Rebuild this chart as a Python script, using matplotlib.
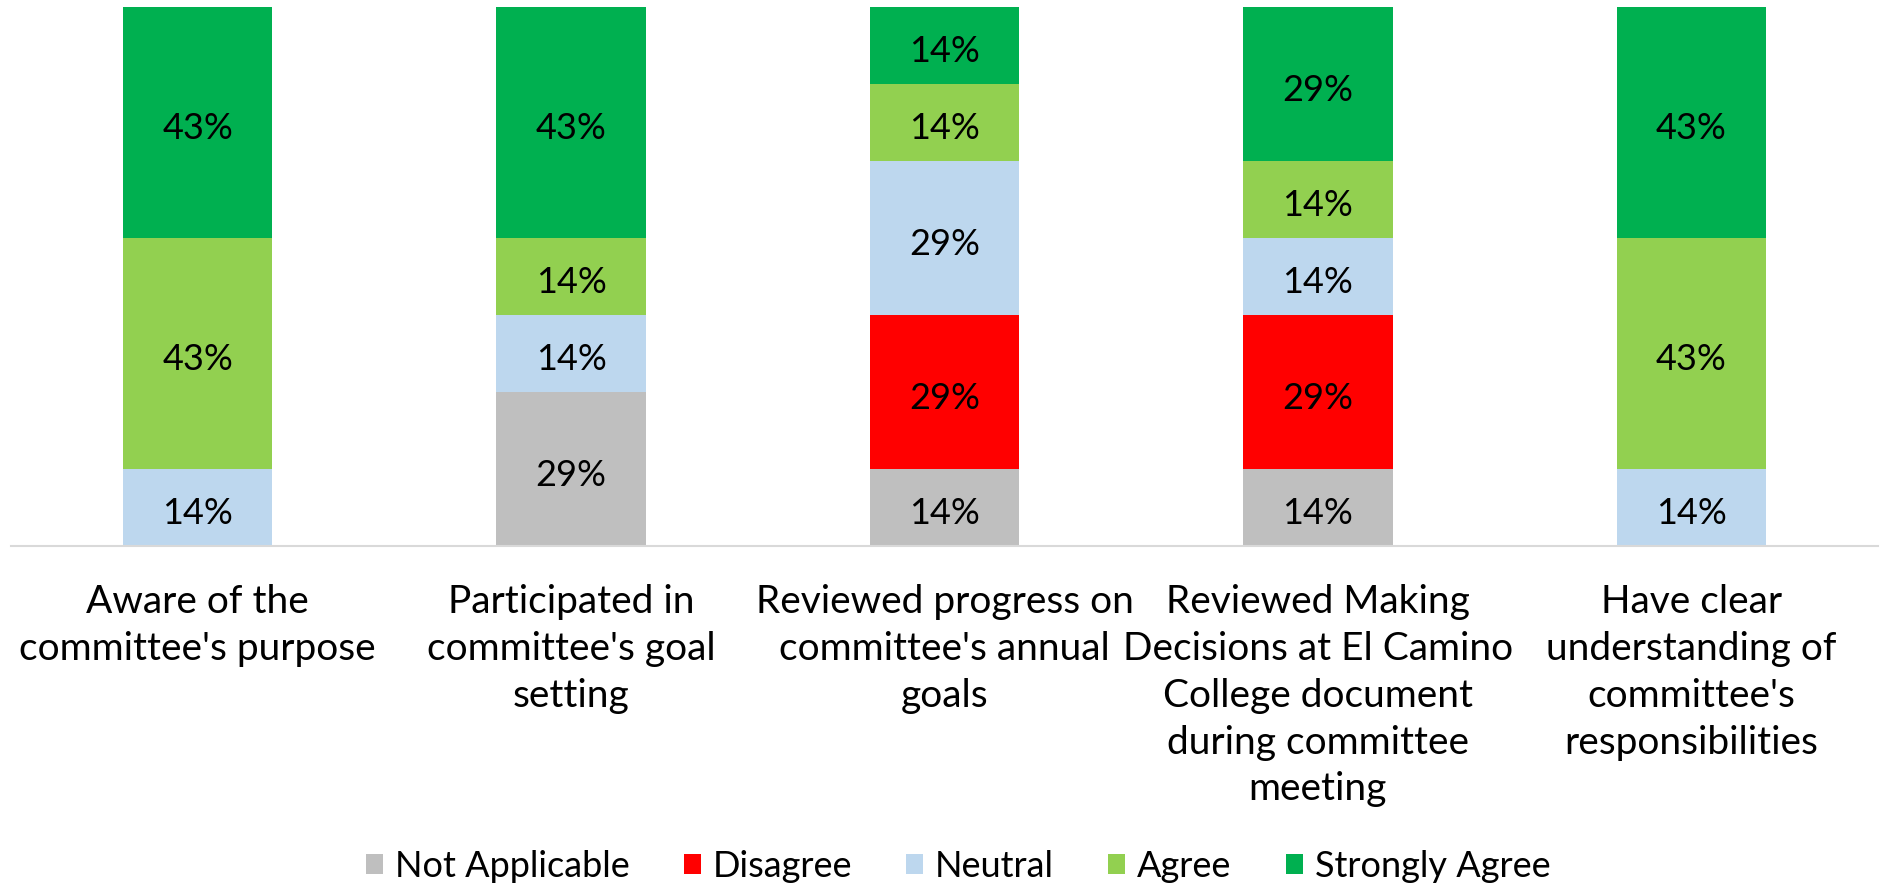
import matplotlib.pyplot as plt
import numpy as np

plt.rcParams['font.family'] = ['Lato', 'DejaVu Sans']

categories = [
    "Aware of the\ncommittee's purpose",
    "Participated in\ncommittee's goal\nsetting",
    "Reviewed progress on\ncommittee's annual\ngoals",
    "Reviewed Making\nDecisions at El Camino\nCollege document\nduring committee\nmeeting",
    "Have clear\nunderstanding of\ncommittee's\nresponsibilities",
]
series = ["Not Applicable", "Disagree", "Neutral", "Agree", "Strongly Agree"]
colors = ["#BFBFBF", "#FF0000", "#BDD7EE", "#92D050", "#00B050"]

not_applicable = [0, 28.57, 14.29, 14.29, 0]
disagree = [0, 0, 28.57, 28.57, 0]
neutral = [14.29, 14.29, 28.57, 14.29, 14.29]
agree = [42.86, 14.29, 14.29, 14.29, 42.86]
strongly_agree = [42.86, 42.86, 14.29, 28.57, 42.86]

values = [not_applicable, disagree, neutral, agree, strongly_agree]

fig = plt.figure(figsize=(18.88, 8.87), dpi=100)
ax = fig.add_axes([11 / 1888, (887 - 547) / 887, 1867 / 1888, 539 / 887])

x = np.arange(len(categories))
bottom = np.zeros(len(categories))
for name, vals, col in zip(series, values, colors):
    vals = np.array(vals)
    ax.bar(x, vals, 0.4, bottom=bottom, color=col, label=name)
    for xi, b, v in zip(x, bottom, vals):
        if v > 0:
            ax.text(xi, b + v / 2 - 1.0, f"{v:.0f}%", ha='center', va='center',
                    fontsize=26, color='black')
    bottom += vals

ax.set_xlim(-0.5, 4.5)
ax.set_ylim(0, 100)
ax.set_yticks([])
ax.set_xticks(x)
ax.set_xticklabels(categories, fontsize=28, linespacing=1.37, va='top')
ax.tick_params(axis='x', length=0, pad=27)
for s in ['top', 'left', 'right']:
    ax.spines[s].set_visible(False)
ax.spines['bottom'].set_color('#D9D9D9')
ax.spines['bottom'].set_linewidth(1.5)

fig.legend(loc='center', bbox_to_anchor=(958 / 1888, (887 - 867) / 887), ncol=5,
           frameon=False, fontsize=26, handlelength=0.47, handleheight=0.47,
           handletextpad=0.33, columnspacing=1.5)

fig.savefig('out.png', dpi=100)
